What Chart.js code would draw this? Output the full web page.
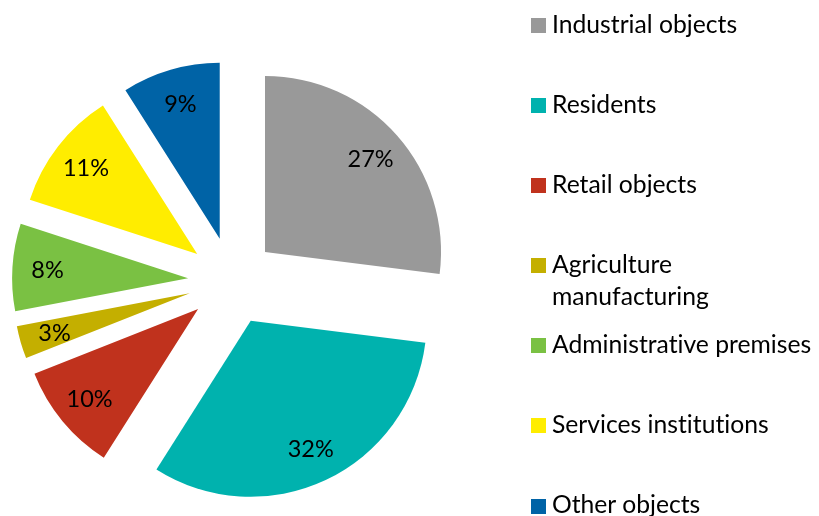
<!DOCTYPE html>
<html><head><meta charset="utf-8">
<script src="https://cdn.jsdelivr.net/npm/chart.js@4"></script>
<style>
html,body{margin:0;padding:0;background:#fff}
#wrap{position:relative;width:819px;height:516px;overflow:hidden}
#c{position:absolute;left:0;top:0}
.lg{position:absolute;left:531px;font-family:Lato,sans-serif;font-size:24.7px;line-height:32px;color:#000;white-space:nowrap;font-variant-ligatures:none;font-feature-settings:"liga" 0,"clig" 0}
.lg i{position:absolute;left:0;width:15px;height:15px}
.lg span{position:absolute;left:21px;top:0}
</style>
</head><body><div id="wrap"><canvas id="c" width="819" height="516"></canvas><div id="legend"></div></div>
<script>
// ---- data ----
const categories = ['Industrial objects', 'Residents', 'Retail objects', 'Agriculture manufacturing', 'Administrative premises', 'Services institutions', 'Other objects'];
const legendLines = [['Industrial objects'], ['Residents'], ['Retail objects'], ['Agriculture', 'manufacturing'], ['Administrative premises'], ['Services institutions'], ['Other objects']];
const shares = [27, 32, 10, 3, 8, 11, 9];
const colors = ['#999999', '#00B2AE', '#C0321D', '#C4AF00', '#7AC143', '#FFED00', '#0063A6'];

const OFFSET = 44;      // explosion distance
const RADIUS = 176;
const LABEL_FRAC = 0.8;

// push a label outward until its box fits inside its wedge
function labelDistance(mid, half, R, w, h, base) {
  const cosm = Math.cos(mid), sinm = Math.sin(mid);
  for (let d = base; d < R; d += 1) {
    const px = cosm * d, py = sinm * d;
    let ok = true;
    for (const [sx, sy] of [[-1, -1], [1, -1], [1, 1], [-1, 1]]) {
      const x = px + sx * w / 2, y = py + sy * h / 2;
      const r = Math.hypot(x, y);
      let diff = Math.atan2(y, x) - mid;
      diff = Math.atan2(Math.sin(diff), Math.cos(diff));
      if (Math.abs(diff) > half - Math.asin(Math.min(1, 3 / r))) { ok = false; break; }
    }
    if (ok) return d;
  }
  return base;
}

const explodePlugin = {
  id: 'explode',
  beforeDatasetDraw(chart, args) {
    const ctx = chart.ctx;
    args.meta.data.forEach(arc => {
      const mid = (arc.startAngle + arc.endAngle) / 2;
      ctx.save();
      ctx.translate(Math.cos(mid) * OFFSET, Math.sin(mid) * OFFSET);
      arc.draw(ctx);
      ctx.restore();
    });
    return false;
  },
  afterDraw(chart) {
    const ctx = chart.ctx;
    const meta = chart.getDatasetMeta(0);
    const data = chart.data.datasets[0].data;
    ctx.save();
    ctx.font = '23.5px Lato, sans-serif';
    ctx.fillStyle = '#000';
    ctx.textAlign = 'center';
    ctx.textBaseline = 'alphabetic';
    meta.data.forEach((arc, i) => {
      const txt = data[i] + '%';
      const m = ctx.measureText(txt);
      const asc = m.actualBoundingBoxAscent, desc = m.actualBoundingBoxDescent;
      const mid = (arc.startAngle + arc.endAngle) / 2;
      const half = (arc.endAngle - arc.startAngle) / 2;
      const R = arc.outerRadius;
      const d = labelDistance(mid, half, R, m.width, asc + desc, R * LABEL_FRAC);
      const ax = arc.x + Math.cos(mid) * OFFSET, ay = arc.y + Math.sin(mid) * OFFSET;
      const lx = ax + Math.cos(mid) * d, ly = ay + Math.sin(mid) * d;
      ctx.fillText(txt, lx, ly + (asc - desc) / 2);
    });
    ctx.restore();
  }
};

new Chart(document.getElementById('c'), {
  type: 'pie',
  data: {
    labels: categories,
    datasets: [{
      data: shares,
      backgroundColor: colors,
      borderWidth: 0,
      radius: RADIUS,
      hoverOffset: 0
    }]
  },
  options: {
    responsive: false,
    animation: false,
    events: [],
    layout: { padding: { left: 0, right: 355, top: 46, bottom: 0 } },
    plugins: { legend: { display: false }, tooltip: { enabled: false } }
  },
  plugins: [explodePlugin]
});

// ---- legend (HTML text) ----
const lg = document.getElementById('legend');
const firstCenter = 25.5, step = 80.1;
legendLines.forEach((lines, i) => {
  const cy = firstCenter + step * i;
  const div = document.createElement('div');
  div.className = 'lg';
  div.style.top = (cy - 17.8) + 'px';
  const box = document.createElement('i');
  box.style.background = colors[i];
  box.style.top = (17.8 - 7.5) + 'px';
  div.appendChild(box);
  const sp = document.createElement('span');
  sp.innerHTML = lines.join('<br>');
  div.appendChild(sp);
  lg.appendChild(div);
});
</script></body></html>
